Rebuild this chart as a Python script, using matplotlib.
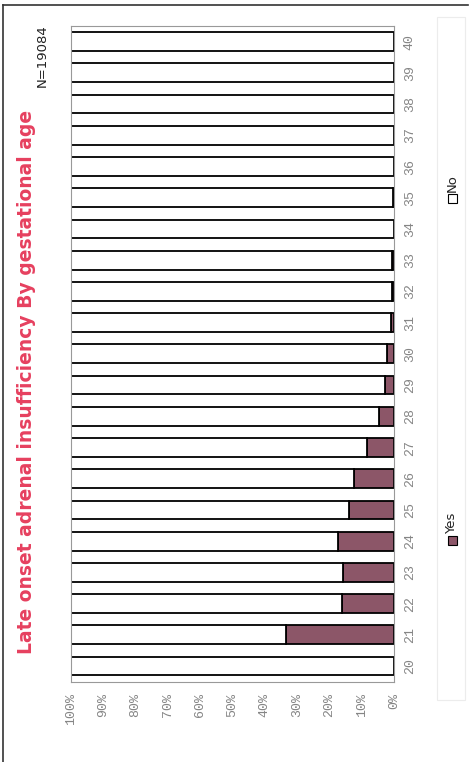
import numpy as np
import matplotlib
matplotlib.use('Agg')
import matplotlib.pyplot as plt
from matplotlib.patches import Rectangle
from matplotlib.lines import Line2D

# %% datos
edades = [20, 21, 22, 23, 24, 25, 26, 27, 28, 29, 30,
          31, 32, 33, 34, 35, 36, 37, 38, 39, 40]
si_pct = [0.0, 33.4, 16.1, 15.8, 17.3, 13.9, 12.4, 8.4, 4.6, 2.8, 2.2,
          0.9, 0.7, 0.5, 0.0, 0.3, 0.0, 0.0, 0.0, 0.0, 0.0]
no_pct = [100 - v for v in si_pct]
ticks_pct = [0, 10, 20, 30, 40, 50, 60, 70, 80, 90, 100]
tick_labels = ['%d%%' % t for t in ticks_pct]

titulo = 'Late onset adrenal insufficiency By gestational age'
n_texto = 'N=19084'

col_si = '#8c5668'
col_titulo = '#e6405f'
gris = '#858585'

# %% figura (el grafico original esta rotado 90 grados)
fig = plt.figure(figsize=(4.71, 7.62), dpi=100)
W, H = 471, 762
ax = fig.add_axes([71 / W, 1 - 682 / H, 323 / W, 656 / H])

ax.barh(edades, si_pct, height=0.6, color=col_si, edgecolor='black', linewidth=1.3)
ax.barh(edades, no_pct, left=si_pct, height=0.6, color='white', edgecolor='black', linewidth=1.3)

ax.set_xlim(100, 0)
ax.set_ylim(19.49, 40.5)
ax.set_xticks(ticks_pct)
ax.set_xticklabels(tick_labels, rotation=90, color=gris, family='Liberation Mono', fontsize=9.5)
ax.set_yticks(edades)
ax.set_yticklabels([str(e) for e in edades], rotation=90, color=gris,
                   family='Liberation Mono', fontsize=9.5, va='center')
ax.yaxis.tick_right()
ax.tick_params(axis='x', length=0, pad=8)
ax.tick_params(axis='y', length=0, pad=7)
for s in ax.spines.values():
    s.set_color('#999999')
    s.set_linewidth(0.8)

# %% textos
fig.text(27 / W, 1 - 382 / H, titulo, rotation=90, color=col_titulo, fontsize=13.5,
         fontweight='bold', ha='center', va='center')
fig.text(42 / W, 1 - 56 / H, n_texto, rotation=90, color='#222222', fontsize=9.5,
         ha='center', va='center')

# leyenda a mano (rotada)
fig.patches.append(Rectangle((437 / W, 1 - 700 / H), 28 / W, 683 / H, transform=fig.transFigure,
                             facecolor='none', edgecolor='#ececec', linewidth=0.8))
fig.patches.append(Rectangle((447.5 / W, 1 - 545 / H), 9 / W, 9 / H, transform=fig.transFigure,
                             facecolor=col_si, edgecolor='black', linewidth=0.8))
fig.text(452 / W, 1 - 534 / H, 'Yes', rotation=90, fontsize=9.5, color='#222222',
         ha='center', va='bottom')
fig.patches.append(Rectangle((448 / W, 1 - 203 / H), 9 / W, 9 / H, transform=fig.transFigure,
                             facecolor='white', edgecolor='black', linewidth=0.8))
fig.text(452.5 / W, 1 - 192 / H, 'No', rotation=90, fontsize=9.5, color='#222222',
         ha='center', va='bottom')

# marco de la pagina
fig.lines.append(Line2D([3 / W, 3 / W], [0, 1 - 5 / H], transform=fig.transFigure, color='#333333', linewidth=1.2))
fig.lines.append(Line2D([3 / W, 468 / W], [1 - 5 / H, 1 - 5 / H], transform=fig.transFigure, color='#333333', linewidth=1.2))

plt.savefig('out.png', dpi=100)
